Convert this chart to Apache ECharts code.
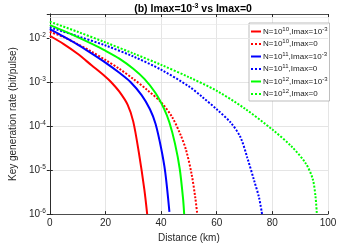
<!DOCTYPE html>
<html>
<head>
<meta charset="utf-8">
<script src="https://cdn.jsdelivr.net/npm/echarts@6/dist/echarts.min.js"></script>
<style>html,body{margin:0;padding:0;background:#fff}#c{width:363px;height:248px}</style>
</head>
<body>
<div id="c"></div>
<script>
// Distance (km) and log10(key rate)
const redSolidD   = [0, 5, 10, 15, 20, 22, 25, 28, 30, 32, 34, 35];
const redSolidLog = [-1.95, -2.14, -2.36, -2.62, -2.88, -3.0, -3.22, -3.52, -3.9, -4.6, -5.45, -6.0];
const redDotD     = [0, 5, 10, 15, 20, 25, 30, 35, 40, 44, 47, 49, 51, 52.3, 53];
const redDotLog   = [-1.86, -1.98, -2.14, -2.31, -2.50, -2.70, -2.93, -3.18, -3.46, -3.80, -4.2, -4.55, -5.1, -5.63, -6.0];
const blueSolidD   = [0, 5, 10, 15, 20, 25, 29, 33, 36, 38, 40, 41.5, 43];
const blueSolidLog = [-1.80, -1.97, -2.15, -2.35, -2.56, -2.79, -3.0, -3.3, -3.62, -3.95, -4.5, -5.05, -5.95];
const blueDotD     = [0, 10, 20, 30, 40, 50, 55, 60, 65, 68.5, 71, 73.5, 75.2, 76.3];
const blueDotLog   = [-1.76, -1.96, -2.17, -2.42, -2.72, -3.1, -3.35, -3.62, -3.92, -4.25, -4.72, -5.25, -5.62, -6.0];
const greenSolidD   = [0, 5, 10, 15, 20, 25, 30, 34, 38, 41, 43, 45, 46.7, 47.9, 48.3];
const greenSolidLog = [-1.71, -1.84, -1.98, -2.13, -2.29, -2.47, -2.7, -2.93, -3.25, -3.6, -3.92, -4.4, -4.97, -5.65, -6.0];
const greenDotD     = [0, 10, 20, 30, 40, 50, 60, 70, 80, 87, 92, 94.5, 95.5, 96];
const greenDotLog   = [-1.63, -1.86, -2.10, -2.35, -2.61, -2.89, -3.20, -3.60, -4.08, -4.47, -4.85, -5.2, -5.6, -6.0];

const seriesNames = ['N=10^10,Imax=10^-3', 'N=10^10,Imax=0', 'N=10^11,Imax=10^-3', 'N=10^11,Imax=0', 'N=10^12,Imax=10^-3', 'N=10^12,Imax=0'];
const legendLabels = ['N=10{s|10},Imax=10{s|-3}', 'N=10{s|10},Imax=0', 'N=10{s|11},Imax=10{s|-3}', 'N=10{s|11},Imax=0', 'N=10{s|12},Imax=10{s|-3}', 'N=10{s|12},Imax=0'];
const dottedFlags = [false, true, false, true, false, true];
const xTicks = [0, 20, 40, 60, 80, 100];
const yDecades = [-6, -5, -4, -3, -2];

const FONT = 'Liberation Sans';
const pairs = (d, l) => d.map((x, i) => [x, Math.pow(10, l[i])]);

const minorLines = [];
yDecades.forEach(e => { for (let k = 2; k <= 9; k++) { const v = k * Math.pow(10, e); if (v < 0.035) minorLines.push({yAxis: v}); } });

const ICON_SOLID = 'path://M0,0h10v2h-10z';
const ICON_DOT = 'path://M0,0h2v2h-2zM4,0h2v2h-2zM8,0h2v2h-2z';

function mk(name, d, l, color, dotted) {
  return {
    name, type: 'line', data: pairs(d, l), symbol: 'none', smooth: 0.3,
    lineStyle: {color, width: 2, type: dotted ? [2, 1.6] : 'solid'},
    itemStyle: {color}, z: 5
  };
}

const series = [
  mk(seriesNames[0], redSolidD, redSolidLog, '#ff0000', false),
  mk(seriesNames[1], redDotD, redDotLog, '#ff0000', true),
  mk(seriesNames[2], blueSolidD, blueSolidLog, '#0000ff', false),
  mk(seriesNames[3], blueDotD, blueDotLog, '#0000ff', true),
  mk(seriesNames[4], greenSolidD, greenSolidLog, '#00ff00', false),
  mk(seriesNames[5], greenDotD, greenDotLog, '#00ff00', true)
];
series.push({
  name: 'minorGrid', type: 'line', data: [[0, 1e-6], [100, 1e-6]], symbol: 'none',
  lineStyle: {opacity: 0}, silent: true, z: 1,
  markLine: {silent: true, symbol: 'none', label: {show: false}, animation: false,
    lineStyle: {color: '#e8e8e8', width: 0.7, type: 'solid'}, data: minorLines}
});

const chart = echarts.init(document.getElementById('c'), null, {renderer: 'canvas'});
chart.setOption({
  animation: false,
  backgroundColor: '#fff',
  textStyle: {fontFamily: FONT},
  title: {
    text: '(b) Imax=10{s|-3} vs Imax=0', left: 188, top: -2, textAlign: 'center',
    textStyle: {fontFamily: FONT, fontSize: 10.5, fontWeight: 'bold', color: '#000',
      rich: {s: {fontFamily: FONT, fontSize: 7, fontWeight: 'bold', padding: [0, 0, 6, 0]}}}
  },
  grid: {left: 47, right: 35, top: 14, bottom: 32},
  legend: {
    orient: 'vertical', left: 249, top: 23,
    data: seriesNames.map((n, i) => ({name: n, icon: dottedFlags[i] ? ICON_DOT : ICON_SOLID})),
    itemWidth: 10, itemHeight: 2, itemGap: 2,
    padding: [3, 2, 2, 2], backgroundColor: '#fff', borderColor: '#a0a0a0', borderWidth: 0.7,
    formatter: n => legendLabels[seriesNames.indexOf(n)],
    textStyle: {fontFamily: FONT, fontSize: 8, color: '#222', lineHeight: 10, padding: [0, 0, 0, -3],
      rich: {s: {fontFamily: FONT, fontSize: 6, padding: [0, 0, 5, 0]}}}
  },
  xAxis: [{
    type: 'value', min: 0, max: 100, interval: 20,
    name: 'Distance (km)', nameLocation: 'middle', nameGap: 18,
    nameTextStyle: {fontFamily: FONT, fontSize: 10, color: '#262626'},
    axisLine: {onZero: false, lineStyle: {color: '#262626', width: 0.8}},
    axisTick: {inside: true, length: 3, lineStyle: {color: '#262626'}},
    axisLabel: {fontFamily: FONT, fontSize: 10, color: '#262626', margin: 4},
    splitLine: {show: true, lineStyle: {color: '#dedede', width: 0.8}}
  }, {
    type: 'value', min: 0, max: 100, interval: 20, position: 'top',
    axisLine: {onZero: false, lineStyle: {color: '#262626', width: 0.8}},
    axisTick: {inside: true, length: 3, lineStyle: {color: '#262626'}},
    axisLabel: {show: false}, splitLine: {show: false}
  }],
  yAxis: [{
    type: 'log', logBase: 10, min: 1e-6, max: 0.035,
    name: 'Key generation rate (bit/pulse)', nameLocation: 'middle', nameGap: 31,
    nameTextStyle: {fontFamily: FONT, fontSize: 10, color: '#262626'},
    axisLine: {lineStyle: {color: '#262626', width: 0.8}},
    axisTick: {inside: true, length: 3, lineStyle: {color: '#262626'}},
    axisLabel: {
      fontFamily: FONT, fontSize: 10, color: '#262626', margin: 4, showMaxLabel: false,
      formatter: v => '10{s|' + Math.round(Math.log10(v)) + '}',
      rich: {s: {fontFamily: FONT, fontSize: 6.5, color: '#262626', padding: [0, 0, 6, 0]}}
    },
    splitLine: {show: true, lineStyle: {color: '#dedede', width: 0.8}}
  }, {
    type: 'log', logBase: 10, min: 1e-6, max: 0.035, position: 'right',
    axisLine: {lineStyle: {color: '#262626', width: 0.8}},
    axisTick: {inside: true, length: 3, lineStyle: {color: '#262626'}},
    axisLabel: {show: false}, splitLine: {show: false}
  }],
  series
});
</script>
</body>
</html>
